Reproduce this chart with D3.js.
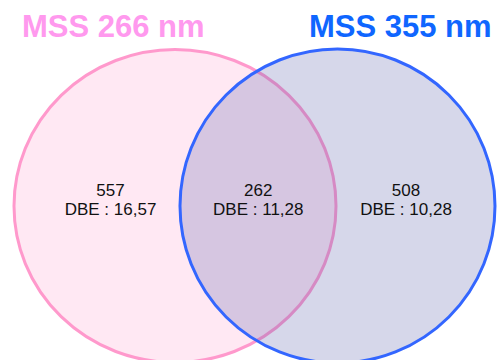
<!DOCTYPE html>
<html>
<head>
<meta charset="utf-8">
<script src="https://cdn.jsdelivr.net/npm/d3@7"></script>
<style>
html,body{margin:0;padding:0;background:#fff;}
svg{display:block;}
</style>
</head>
<body>
<svg id="chart" width="498" height="360"></svg>
<script>
// ---- data ----
const setNames = ["MSS 266 nm", "MSS 355 nm"];
const regionKeys = ["only266", "both", "only355"];
const regionCounts = [557, 262, 508];
const regionDBE = ["16,57", "11,28", "10,28"];

// ---- layout ----
const W = 498, H = 360;
const svg = d3.select("#chart");

const x = d3.scaleLinear().domain([0, 1]).range([0, W]);
const y = d3.scaleLinear().domain([0, 1]).range([0, H]);

const sets = [
  {name: setNames[0], cx: 0.3514, cy: 0.5722, rx: 161, ry: 156.5,
   fill: "#ffe8f3", fillOpacity: 1, stroke: "#ff99cc", title: "#ff99ee", tx: 0.0442},
  {name: setNames[1], cx: 0.6777, cy: 0.5722, rx: 157.5, ry: 157,
   fill: "#5a5eab", fillOpacity: 0.25, stroke: "#3366ff", title: "#0f66ff", tx: 0.6205}
];

svg.selectAll("ellipse.set").data(sets).join("ellipse")
  .attr("class", "set")
  .attr("cx", d => x(d.cx))
  .attr("cy", d => y(d.cy))
  .attr("rx", d => d.rx)
  .attr("ry", d => d.ry)
  .attr("fill", d => d.fill)
  .attr("fill-opacity", d => d.fillOpacity)
  .attr("stroke", d => d.stroke)
  .attr("stroke-width", 3);

svg.selectAll("text.title").data(sets).join("text")
  .attr("class", "title")
  .attr("x", d => x(d.tx))
  .attr("y", 37)
  .attr("font-family", "'Liberation Sans', Arial, sans-serif")
  .attr("font-weight", "bold")
  .attr("font-size", 31)
  .attr("fill", d => d.title)
  .text(d => d.name);

const labelX = d3.scalePoint().domain(regionKeys).range([x(0.2219), x(0.8153)]);

const regions = regionKeys.map((k, i) => ({key: k, count: regionCounts[i], dbe: regionDBE[i]}));

const g = svg.selectAll("g.region").data(regions).join("g")
  .attr("class", "region")
  .attr("transform", d => `translate(${labelX(d.key)},0)`);

g.append("text")
  .attr("y", 196)
  .attr("text-anchor", "middle")
  .attr("font-family", "'Liberation Sans', Arial, sans-serif")
  .attr("font-size", 17)
  .attr("fill", "#111")
  .text(d => d.count);

g.append("text")
  .attr("y", 215)
  .attr("text-anchor", "middle")
  .attr("font-family", "'Liberation Sans', Arial, sans-serif")
  .attr("font-size", 17)
  .attr("fill", "#111")
  .text(d => "DBE : " + d.dbe);
</script>
</body>
</html>
